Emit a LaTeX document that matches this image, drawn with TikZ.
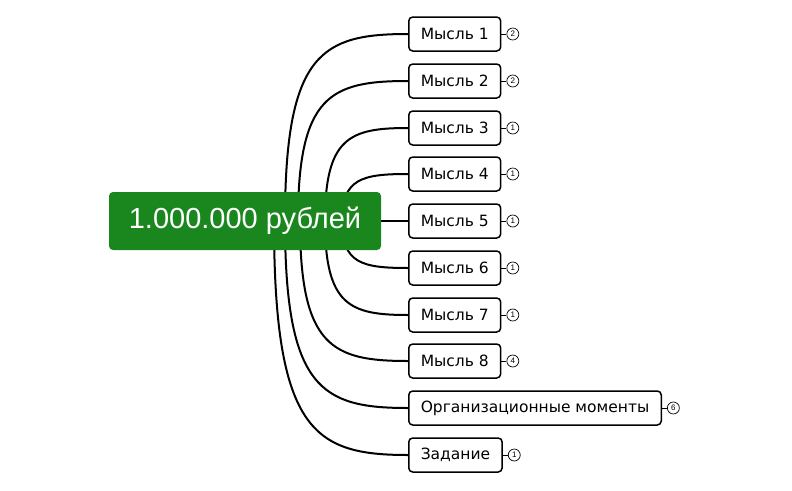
\documentclass[tikz,border=0pt]{standalone}
\usepackage{fontspec}
\setmainfont{Liberation Sans}
\newfontfamily\dv{DejaVu Sans}
\usetikzlibrary{positioning,calc}
\begin{document}
\begin{tikzpicture}[x=1pt,y=-1pt,
 child/.style={draw,line width=1.5pt,rounded corners=4pt,fill=white,anchor=west,minimum height=34pt,inner xsep=12pt,font=\dv\fontsize{15.5}{17}\selectfont},
 cnt/.style={draw,circle,line width=0.7pt,inner sep=0pt,minimum size=12pt,font=\fontsize{8}{9}\selectfont},
 edge/.style={line width=2pt}]
\useasboundingbox (0,0) rectangle (792,490);
\node[child] (c1) at (408,34) {Мысль 1};
\node[child] (c2) at (408,81) {Мысль 2};
\node[child] (c3) at (408,128) {Мысль 3};
\node[child] (c4) at (408,174) {Мысль 4};
\node[child] (c5) at (408,221) {Мысль 5};
\node[child] (c6) at (408,268) {Мысль 6};
\node[child] (c7) at (408,315) {Мысль 7};
\node[child] (c8) at (408,361) {Мысль 8};
\node[child] (c9) at (408,408) {Организационные моменты};
\node[child] (c10) at (408,455) {Задание};
\foreach \n/\k in {1/2,2/2,3/1,4/1,5/1,6/1,7/1,8/4,9/6,10/1}{
  \node[cnt,right=5pt of c\n.east] (k\n) {\k};
  \draw[line width=0.7pt] (c\n.east) -- (k\n.west);
}
\coordinate (s1) at (285,221); \coordinate (s2) at (298,221);
\coordinate (s3) at (325,221); \coordinate (s4) at (342,221);
\coordinate (s5) at (345,221); \coordinate (s6) at (342,221);
\coordinate (s7) at (325,221); \coordinate (s8) at (300,221);
\coordinate (s9) at (285,221); \coordinate (s10) at (274,221);
\foreach \n in {1,2,3,4,6,7,8,9,10}{
  \draw[edge] (s\n) .. controls ($(s\n)!0.9!(s\n|-c\n.west)$) and ($(s\n|-c\n.west)!0.3!(c\n.west)$) .. (c\n.west);
}
\draw[edge] (s5) -- (c5.west);
\node[fill={rgb,255:red,26;green,135;blue,30},rounded corners=4pt,minimum width=272pt,minimum height=58pt,text=white,font=\fontsize{29}{33}\selectfont] (root) at (245,221) {1.000.000 рублей};
\end{tikzpicture}
\end{document}
